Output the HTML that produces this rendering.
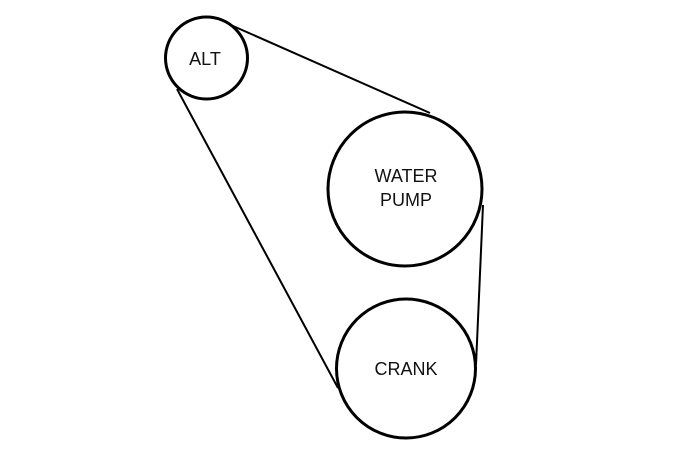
<!DOCTYPE html>
<html><head><style>html,body{margin:0;padding:0;background:#fff;}</style></head>
<body>
<svg width="688" height="459" xmlns="http://www.w3.org/2000/svg">
<g fill="none" stroke="#000" stroke-width="3">
<circle cx="206.5" cy="58" r="41"/>
<circle cx="405" cy="189" r="77"/>
<circle cx="406" cy="368.5" r="69.5"/>
<line x1="233" y1="26" x2="430" y2="113" stroke-width="2"/>
<line x1="177" y1="89" x2="338" y2="388" stroke-width="2"/>
<line x1="483" y1="205" x2="476" y2="365" stroke-width="2"/>
</g>
<g font-family="Liberation Sans, sans-serif" font-size="18" fill="#111" text-anchor="middle">
<text x="205" y="65">ALT</text>
<text x="406" y="182">WATER</text>
<text x="406" y="206">PUMP</text>
<text x="406" y="375">CRANK</text>
</g>
</svg>
</body></html>
